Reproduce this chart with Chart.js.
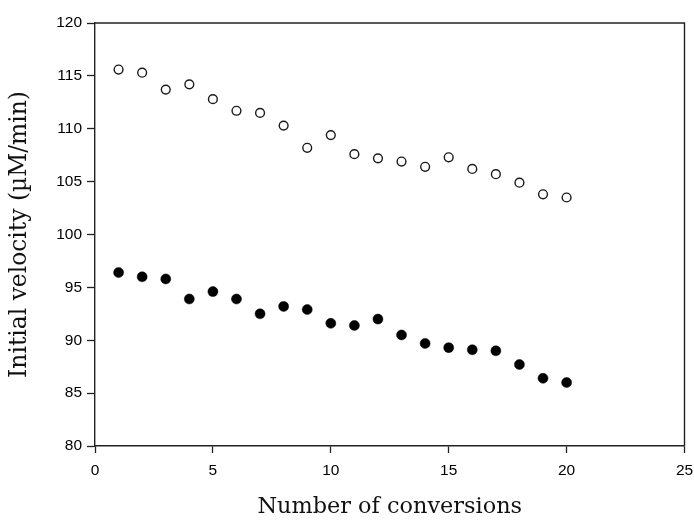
<!DOCTYPE html>
<html>
<head>
<meta charset="utf-8">
<script src="https://cdn.jsdelivr.net/npm/chart.js@4/dist/chart.umd.min.js"></script>
<style>
  html, body { margin: 0; padding: 0; background: #ffffff; }
  #wrap { width: 694px; height: 521px; position: relative; }
</style>
</head>
<body>
<div id="wrap"><canvas id="chart" width="694" height="521"></canvas></div>
<script>
// Number of conversion cycles
const conversions = [1, 2, 3, 4, 5, 6, 7, 8, 9, 10, 11, 12, 13, 14, 15, 16, 17, 18, 19, 20];
// Initial velocity (µM/min), open markers
const velocityOpen = [115.6, 115.3, 113.7, 114.2, 112.8, 111.7, 111.5, 110.3, 108.2, 109.4,
                      107.6, 107.2, 106.9, 106.4, 107.3, 106.2, 105.7, 104.9, 103.8, 103.5];
// Initial velocity (µM/min), filled markers
const velocityFilled = [96.4, 96.0, 95.8, 93.9, 94.6, 93.9, 92.5, 93.2, 92.9, 91.6,
                        91.4, 92.0, 90.5, 89.7, 89.3, 89.1, 89.0, 87.7, 86.4, 86.0];
const xTicks = [0, 5, 10, 15, 20, 25];
const yTicks = [80, 85, 90, 95, 100, 105, 110, 115, 120];

const axisColor = '#222222';
Chart.defaults.font.family = 'Liberation Sans';
Chart.defaults.font.size = 15;
Chart.defaults.color = '#000000';
const tickFont = { family: 'Liberation Sans', size: 15.5 };
const xTitleFont = { family: 'DejaVu Serif', size: 22.4, lineHeight: 1.2 };
const yTitleFont = { family: 'DejaVu Serif', size: 23.4, lineHeight: 1.2 };

const toPoints = (ys) => conversions.map((x, i) => ({ x: x, y: ys[i] }));

// Closes the plot box with top and right edges
const frame = {
  id: 'frame',
  afterDatasetsDraw(chart) {
    const { ctx, chartArea: a } = chart;
    ctx.save();
    ctx.strokeStyle = axisColor;
    ctx.lineWidth = 1.4;
    ctx.beginPath();
    ctx.moveTo(a.left, a.top);
    ctx.lineTo(a.right, a.top);
    ctx.lineTo(a.right, a.bottom);
    ctx.stroke();
    ctx.restore();
  }
};

new Chart(document.getElementById('chart'), {
  type: 'scatter',
  data: {
    datasets: [
      {
        label: 'open',
        data: toPoints(velocityOpen),
        pointRadius: 4.4,
        pointBorderWidth: 1.4,
        pointBackgroundColor: '#ffffff',
        pointBorderColor: '#1a1a1a',
        showLine: false
      },
      {
        label: 'filled',
        data: toPoints(velocityFilled),
        pointRadius: 5,
        pointBorderWidth: 0.5,
        pointBackgroundColor: '#000000',
        pointBorderColor: '#000000',
        showLine: false
      }
    ]
  },
  options: {
    responsive: false,
    animation: false,
    layout: { padding: { top: 23, right: 9.5, left: 0, bottom: 0 } },
    plugins: { legend: { display: false }, tooltip: { enabled: false } },
    scales: {
      x: {
        type: 'linear',
        min: xTicks[0],
        max: xTicks[xTicks.length - 1],
        afterBuildTicks: (s) => { s.ticks = xTicks.map(v => ({ value: v })); },
        afterFit: (s) => { s.height = 75; s.paddingLeft = 0; s.paddingRight = 0; },
        ticks: { font: tickFont, color: '#000000', padding: 8, maxRotation: 0 },
        grid: { drawOnChartArea: false, drawTicks: true, tickLength: 7, tickColor: axisColor, tickWidth: 1.3 },
        border: { color: axisColor, width: 1.4 },
        title: { display: true, text: 'Number of conversions', font: xTitleFont, color: '#111111', padding: { top: 0, bottom: 0 } }
      },
      y: {
        type: 'linear',
        min: yTicks[0],
        max: yTicks[yTicks.length - 1],
        afterBuildTicks: (s) => { s.ticks = yTicks.map(v => ({ value: v })); },
        afterFit: (s) => { s.width = 95; s.paddingTop = 0; s.paddingBottom = 0; },
        ticks: { font: tickFont, color: '#000000', padding: 5 },
        grid: { drawOnChartArea: false, drawTicks: true, tickLength: 8, tickColor: axisColor, tickWidth: 1.3 },
        border: { color: axisColor, width: 1.4 },
        title: { display: true, text: 'Initial velocity (µM/min)', font: yTitleFont, color: '#111111', padding: { top: 6, bottom: 0 } }
      }
    }
  },
  plugins: [frame]
});
</script>
</body>
</html>
